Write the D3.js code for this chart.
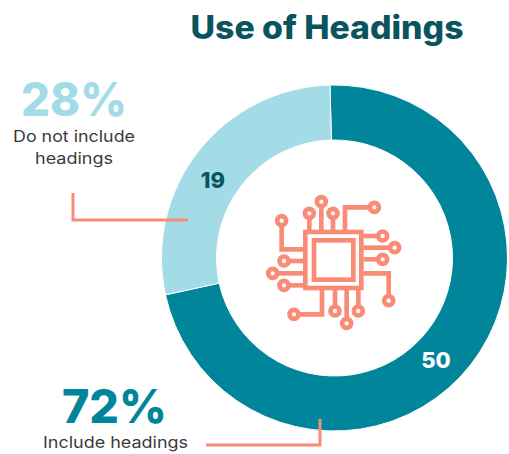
<!DOCTYPE html>
<html><head><meta charset="utf-8">
<script src="https://cdn.jsdelivr.net/npm/d3@7"></script>
<style>html,body{margin:0;padding:0;background:#fff}svg{display:block}text{font-family:Inter,Lato,sans-serif}</style>
</head><body><svg id="c" width="509" height="454"></svg>
<script>
const categories=["Include headings","Do not include headings"];
const counts=[50,19];
const percents=[72,28];
const colors=["#00859b","#a3dce7"];
const title="Use of Headings";
const teal="#0a5460",salmon="#f98b77",ink="#3a3a3a";
const leads=[
 [[148,150],[148,100]],[[184,150],[184,65]],[[219,150],[219,100]],[[255,150],[255,82],[343,82]],
 [[130,208],[65,208],[65,122]],[[130,243],[72,243]],[[130,280],[38,280]],[[130,316],[72,316]],
 [[310,168],[368,168]],[[310,203],[404,203]],[[310,238],[368,238]],[[310,280],[386,280],[386,362]],
 [[186,330],[186,403],[102,403]],[[225,330],[225,393]],[[260,330],[260,430]],[[295,330],[295,393]]
];
const svg=d3.select("#c");
svg.append("text").attr("x",327).attr("y",39).attr("text-anchor","middle").attr("font-size",32).attr("font-weight",800).attr("fill",teal).attr("textLength",273).attr("lengthAdjust","spacingAndGlyphs").text(title);
const cx=334.5,cy=258;
const pie=d3.pie().sort(null).startAngle(-1.5*Math.PI/180).endAngle((360-1.5)*Math.PI/180)(percents);
const arc=d3.arc().innerRadius(118).outerRadius(173);
const g=svg.append("g").attr("transform",`translate(${cx},${cy})`);
g.selectAll("path").data(pie).join("path").attr("d",arc).attr("fill",(d,i)=>colors[i]).attr("stroke","#fff").attr("stroke-width",1);
const valuePos=[[436,368],[213,188]],valueFill=["#fff",teal];
svg.selectAll("text.v").data(counts).join("text").attr("class","v").attr("x",(d,i)=>valuePos[i][0]).attr("y",(d,i)=>valuePos[i][1]).attr("text-anchor","middle").attr("font-size",22).attr("font-weight",800).attr("fill",(d,i)=>valueFill[i]).text(d=>d);
const line=d3.line();
[[[73,193],[73,220],[188,220]],[[320,419],[320,445],[206,445]]].forEach(p=>svg.append("path").attr("d",line(p)).attr("fill","none").attr("stroke",salmon).attr("stroke-width",3));
svg.append("text").attr("x",74).attr("y",116).attr("text-anchor","middle").attr("font-size",47).attr("font-weight",800).attr("fill",colors[1]).attr("textLength",106).attr("lengthAdjust","spacingAndGlyphs").text(percents[1]+"%");
svg.append("text").attr("x",114.5).attr("y",423).attr("text-anchor","middle").attr("font-size",47).attr("font-weight",800).attr("fill",colors[0]).attr("textLength",105).attr("lengthAdjust","spacingAndGlyphs").text(percents[0]+"%");
[["Do not include",74,142,122],["headings",74,164,78],["Include headings",115.5,448,145]].forEach(t=>svg.append("text").attr("x",t[1]).attr("y",t[2]).attr("text-anchor","middle").attr("font-size",16).attr("fill",ink).attr("textLength",t[3]).attr("lengthAdjust","spacingAndGlyphs").text(t[0]));
const ic=svg.append("g").attr("transform","translate(260,180) scale(0.3333)").attr("fill","none").attr("stroke",salmon).attr("stroke-width",14);
leads.forEach(p=>{ic.append("path").attr("d",line(p));const e=p[p.length-1];ic.append("circle").attr("cx",e[0]).attr("cy",e[1]).attr("r",13.5).attr("fill","#fff");});
ic.append("rect").attr("x",136).attr("y",156).attr("width",168).attr("height",168).attr("fill","#fff");
ic.append("rect").attr("x",162).attr("y",181).attr("width",118).attr("height",118);
</script></body></html>
